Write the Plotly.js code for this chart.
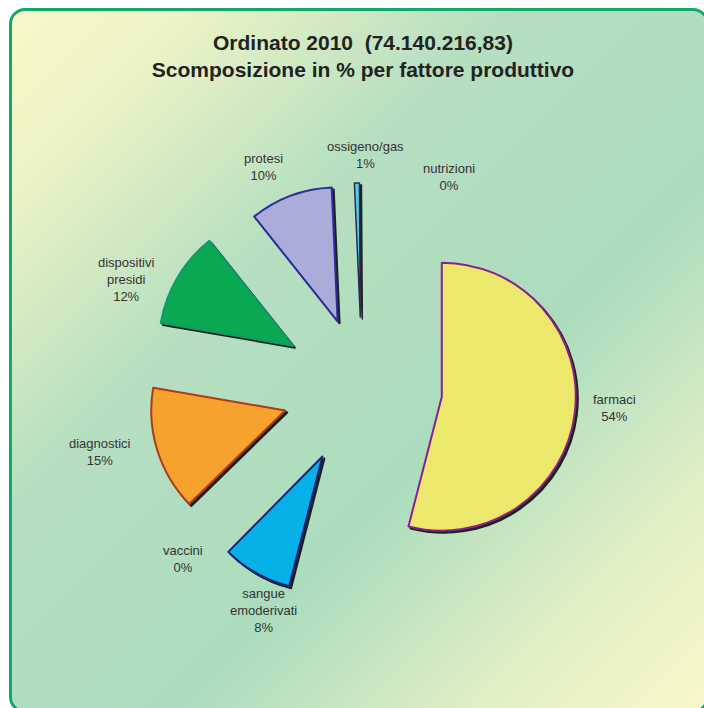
<!DOCTYPE html>
<html>
<head>
<meta charset="utf-8">
<script src="https://cdn.plot.ly/plotly-3.0.1.min.js"></script>
<style>
html,body{margin:0;padding:0;overflow:hidden;background:#ffffff;width:704px;height:708px;}
#bg{position:absolute;left:9px;top:8px;width:700px;height:705px;box-sizing:border-box;border:3px solid #12a86c;border-radius:16px;
background:linear-gradient(135deg,#f8f8c8 0%,#eef4c6 12%,#b6dfc0 35%,#acdcbe 62%,#e4f0c6 85%,#f9f8c8 100%);}
#chart{position:absolute;left:0;top:0;width:704px;height:708px;}
#chart .slice path.surface{filter:drop-shadow(2px 2px 0 rgba(0,0,0,0.85));}
</style>
</head>
<body>
<div id="bg"></div>
<div id="chart"></div>
<script>
// Data
const labels = ['farmaci', 'sangue<br>emoderivati', 'vaccini', 'diagnostici', 'dispositivi<br>presidi', 'protesi', 'ossigeno/gas', 'nutrizioni'];
const values = [54.0, 8.4, 0.3, 15.0, 11.6, 10.0, 0.6, 0.1];
const titleLines = ['Ordinato 2010&nbsp; (74.140.216,83)', 'Scomposizione in % per fattore produttivo'];

// Styling
const fillColors = ['#ece86c', '#08b0e8', 'rgba(0,0,0,0)', '#f6a22c', '#0aa850', '#acacda', '#5cc8e8', 'rgba(0,0,0,0)'];
const lineColors = ['#8e1e8e', '#23237a', 'rgba(0,0,0,0)', '#b0381c', '#0c9c6c', '#2d2d9a', '#2a2a4a', 'rgba(0,0,0,0)'];
const lineWidths = [2, 2, 0, 2, 2, 2, 1.5, 0];
// label anchor positions (pixels in the 704x708 page)
const labelPx = [[614, 408], [263, 610], [183, 559], [100, 452], [126, 279], [263, 167], [365, 155], [449, 177]];

const total = values.reduce((a, b) => a + b, 0);
const annotations = labels.map((lab, i) => ({
  xref: 'paper', yref: 'paper',
  x: labelPx[i][0] / 704, y: 1 - labelPx[i][1] / 708,
  xanchor: 'center', yanchor: 'middle',
  showarrow: false, align: 'center',
  text: lab + '<br>' + Math.round(values[i] / total * 100) + '%',
  font: {family: 'Liberation Sans, Arial, sans-serif', size: 13, color: '#333333'}
}));

const trace = {
  type: 'pie',
  labels: labels,
  values: values,
  sort: false,
  direction: 'clockwise',
  rotation: 0,
  pull: [0.6, 0.6, 0.6, 0.6, 0.6, 0.52, 0.52, 0.6],
  marker: {colors: fillColors, line: {color: lineColors, width: lineWidths}},
  textinfo: 'none',
  hoverinfo: 'label+percent',
  domain: {x: [0.2097, 0.8188], y: [0.151, 0.757]},
  automargin: false
};

const layout = {
  width: 704, height: 708,
  margin: {l: 0, r: 0, t: 0, b: 0},
  paper_bgcolor: 'rgba(0,0,0,0)',
  plot_bgcolor: 'rgba(0,0,0,0)',
  showlegend: false,
  annotations: annotations,
  title: {
    text: '<b>' + titleLines.join('<br>') + '</b>',
    x: 0.5156, xanchor: 'center',
    y: 0.93, yanchor: 'top',
    font: {family: 'Liberation Sans, Arial, sans-serif', size: 21, color: '#222222'}
  }
};

Plotly.newPlot('chart', [trace], layout, {displayModeBar: false, staticPlot: true});
</script>
</body>
</html>
